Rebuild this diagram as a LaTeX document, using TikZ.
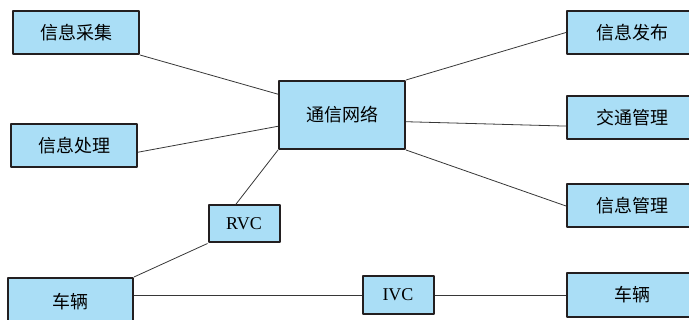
\documentclass[tikz,border=0pt]{standalone}
\usepackage{fontspec}
\setmainfont{Liberation Serif}
\newfontfamily\cjk{Noto Sans CJK SC}
\definecolor{boxblue}{RGB}{170,222,246}
\definecolor{boxline}{RGB}{35,31,32}
\definecolor{linkgray}{RGB}{55,55,55}
\begin{document}
\begin{tikzpicture}[x=1pt, y=1pt, line join=round,
	box/.style={draw=boxline, line width=2pt, fill=boxblue, inner sep=0pt,
		minimum width=126pt, minimum height=43pt, font=\fontsize{18}{20}\selectfont\cjk},
	smallbox/.style={box, minimum width=71pt, minimum height=37pt, font=\fontsize{18}{20}\selectfont},
	link/.style={draw=linkgray, line width=0.8pt}]
	\useasboundingbox (0,0) rectangle (689,320);
	% ben trai
	\node[box] (cj) at (76,287.5) {信息采集};
	\node[box] (cl) at (74,174.5) {信息处理};
	\node[box, minimum width=125pt, minimum height=48pt] (car1) at (70.5,18) {车辆};
	% giua
	\node[box, minimum height=68pt] (tx) at (342,205) {通信网络};
	\node[smallbox] (rvc) at (244,96) {RVC};
	\node[smallbox, minimum height=38pt] (ivc) at (398,25) {IVC};
	% ben phai
	\node[box, minimum width=130pt] (fb) at (632,287.5) {信息发布};
	\node[box, minimum width=130pt] (jt) at (632,202) {交通管理};
	\node[box, minimum width=130pt] (gl) at (632,114) {信息管理};
	\node[box, minimum width=130pt, minimum height=44pt] (car2) at (632,25) {车辆};
	% duong noi
	\draw[link] (cj.south east) -- (tx.162);
	\draw[link] (cl.354) -- (tx.190);
	\draw[link] (rvc.113) -- (tx.south west);
	\draw[link] (rvc.south west) -- (car1.north east);
	\draw[link] (car1.east |- ivc.west) -- (ivc.west);
	\draw[link] (ivc.east) -- (car2.west);
	\draw[link] (tx.north east) -- (fb.west);
	\draw[link] (tx.-6) -- (jt.187);
	\draw[link] (tx.south east) -- (gl.west);
\end{tikzpicture}
\end{document}
